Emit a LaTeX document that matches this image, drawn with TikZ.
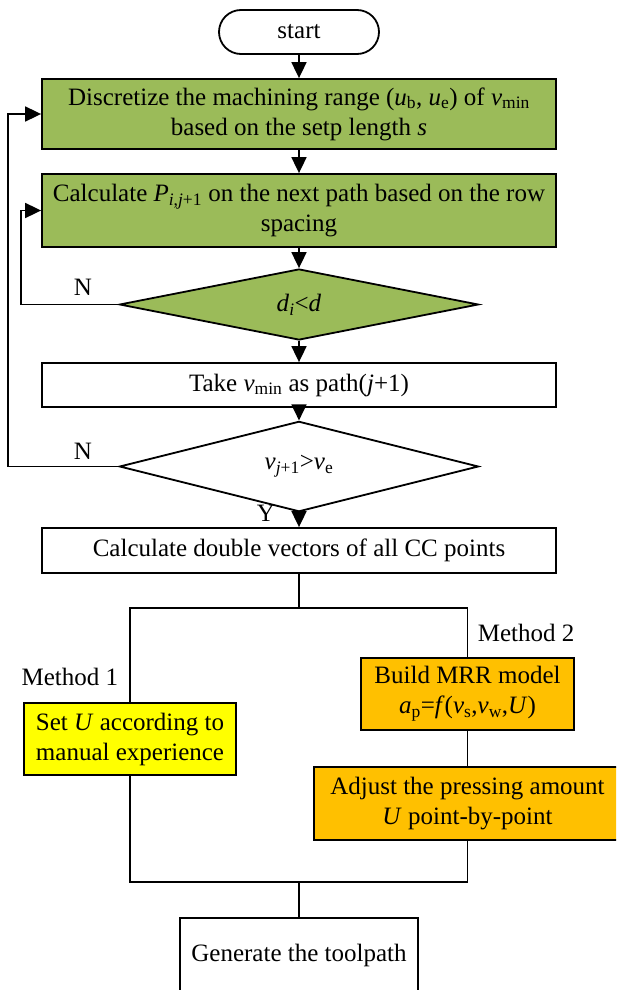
\documentclass[tikz,border=0pt]{standalone}
\usepackage{fontspec}
\setmainfont{Liberation Serif}
\usepackage{tikz}
\usetikzlibrary{arrows.meta}
\usetikzlibrary{shapes.geometric}
\usetikzlibrary{calc}

\definecolor{BoxGreen}{RGB}{155,187,89}
\definecolor{BoxOrange}{RGB}{255,192,0}
\definecolor{BoxYellow}{RGB}{255,255,0}

\newcommand{\vsub}[2]{\textit{#1}\textsubscript{#2}}

\tikzset{
  txt/.style={font=\fontsize{25pt}{30pt}\selectfont},
  flowbox/.style={txt,draw,line width=1.8pt,inner sep=0pt,align=center},
  mainbox/.style={flowbox,minimum width=514pt},
  termbox/.style={flowbox,rounded corners=22pt,minimum width=160pt,minimum height=44pt},
  testbox/.style={txt,draw,line width=1.8pt,diamond,inner sep=0pt,minimum width=359pt,minimum height=71pt},
  lbl/.style={txt,inner sep=0pt}
}

\begin{document}
\begin{tikzpicture}[x=1pt,y=-1pt,line width=1.8pt,>={Triangle[length=16pt,width=15pt]}]
\clip (0,0) rectangle (616,990);

% main column
\node[termbox] (start) at (299,32) {start};
\node[mainbox,fill=BoxGreen,minimum height=70pt] (disc) at (299,114)
  {Discretize the machining range (\vsub{u}{b}, \vsub{u}{e}) of \vsub{v}{min}\\based on the setp length \textit{s}};
\node[mainbox,fill=BoxGreen,minimum height=73pt] (calc) at (299,210.5)
  {Calculate \textit{P}\textsubscript{\textit{i},\textit{j}+1} on the next path based on the row\\spacing};
\node[testbox,fill=BoxGreen] (dia1) at (299,304.5) {\vsub{d}{\textit{i}}<\textit{d}};
\node[mainbox,minimum height=44pt] (take) at (299,385) {Take \vsub{v}{min} as path(\textit{j}+1)};
\node[testbox,fill=white] (dia2) at (299,466.5) {\vsub{v}{\textit{j}+1}>\vsub{v}{e}};
\node[mainbox,minimum height=45pt] (dbl) at (299,550.5) {Calculate double vectors of all CC points};

\draw[->] (start) -- (disc);
\draw[->] (disc) -- (calc);
\draw[->] (calc) -- (dia1);
\draw[->] (dia1) -- (take);
\draw[->] (take) -- (dia2);
\draw[->] (dia2) -- (dbl);

% loops back
\draw[->] (dia1.west) -| ([xshift=-20.4pt]calc.west) -- (calc.west);
\draw[->] (dia2.west) -| ([xshift=-33.4pt]disc.west) -- (disc.west);
\node[lbl] (n1) at (83,287) {N};
\node[lbl] (n2) at (83,451) {N};
\node[lbl] (y2) at (266,513) {Y};

% two methods
\node[flowbox,fill=BoxYellow,minimum width=212pt,minimum height=72pt] (setu) at (130,739)
  {Set \textit{U} according to\\manual experience};
\node[flowbox,fill=BoxOrange,minimum width=213pt,minimum height=72pt] (build) at (467.5,694)
  {Build MRR model\\\vsub{a}{p}=\textit{f}(\vsub{v}{s},\vsub{v}{w},\textit{U})};
\node[flowbox,fill=BoxOrange,minimum width=307pt,minimum height=73pt] (adjust) at (467.5,803.5)
  {Adjust the pressing amount\\\textit{U} point-by-point};
\node[lbl,anchor=east] (m1) at (119,677) {Method 1};
\node[lbl,anchor=west] (m2) at (477,633) {Method 2};
\node[flowbox,minimum width=238pt,minimum height=74pt] (gen) at (299,955) {Generate the toolpath};

\coordinate (split) at (299,608);
\coordinate (splitL) at (130,608);
\coordinate (splitR) at (467.5,608);
\coordinate (merge) at (299,882);
\coordinate (mergeL) at (130,882);
\coordinate (mergeR) at (467.5,882);

\draw (dbl) -- (split);
\draw (setu.north) -- (splitL) -- (splitR) -- (build.north);
\draw (build) -- (adjust);
\draw (setu.south) -- (mergeL) -- (mergeR) -- (adjust.south);
\draw (merge) -- (gen);

\end{tikzpicture}
\end{document}
